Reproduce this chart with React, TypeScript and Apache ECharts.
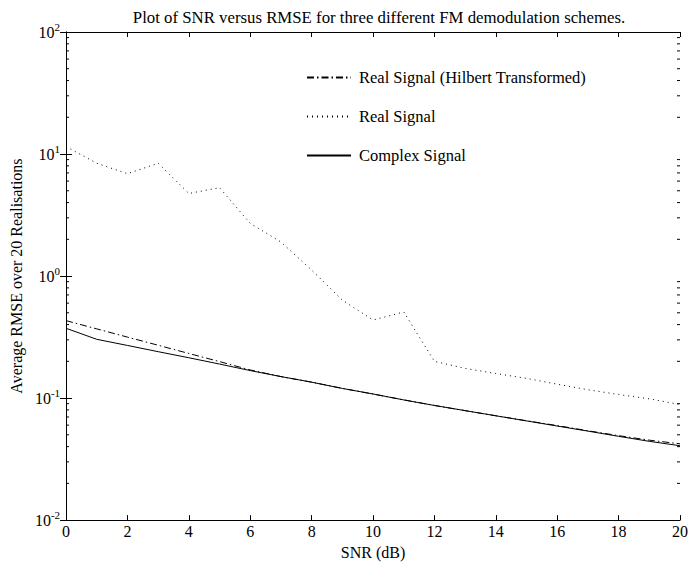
import React, { useEffect, useRef } from "react";
import * as echarts from "echarts";

const snr = [0, 1, 2, 3, 4, 5, 6, 7, 8, 9, 10, 11, 12, 13, 14, 15, 16, 17, 18, 19, 20];
const hilbertRmse = [0.431, 0.369, 0.316, 0.271, 0.232, 0.199, 0.170, 0.150, 0.135, 0.120, 0.108, 0.0966, 0.087, 0.0789, 0.0716, 0.0652, 0.0595, 0.054, 0.0492, 0.0452, 0.0422];
const realRmse = [11.5, 8.4, 6.9, 8.4, 4.75, 5.3, 2.7, 1.9, 1.12, 0.635, 0.436, 0.508, 0.20, 0.175, 0.159, 0.145, 0.130, 0.117, 0.107, 0.0986, 0.0886];
const complexRmse = [0.373, 0.303, 0.270, 0.240, 0.214, 0.190, 0.168, 0.150, 0.135, 0.120, 0.108, 0.0966, 0.087, 0.0789, 0.0716, 0.065, 0.059, 0.0536, 0.0486, 0.0442, 0.0407];
const seriesNames = ["Real Signal (Hilbert Transformed)", "Real Signal", "Complex Signal"];
const xTicks = [0, 2, 4, 6, 8, 10, 12, 14, 16, 18, 20];
const decades = [-2, -1, 0, 1];
const minorMultipliers = [2, 3, 4, 5, 6, 7, 8, 9];

const FONT = "Liberation Serif";

export default function App() {
  const ref = useRef<HTMLDivElement>(null);
  useEffect(() => {
    if (!ref.current) return;
    const chart = echarts.init(ref.current, null, { renderer: "svg" });
    const minorData: number[][] = [];
    decades.forEach((k) => minorMultipliers.forEach((m) => minorData.push([0, m * Math.pow(10, k)])));
    const pair = (ys: number[]) => snr.map((x, i) => [x, ys[i]]);
    const xCommon = {
      type: "value" as const,
      min: xTicks[0],
      max: xTicks[xTicks.length - 1],
      interval: 2,
      splitLine: { show: false },
      axisLine: { lineStyle: { color: "#000", width: 1 } },
      axisTick: { inside: true, length: 5, lineStyle: { color: "#000" } },
    };
    const yCommon = {
      type: "log" as const,
      min: 0.01,
      max: 100,
      logBase: 10,
      splitNumber: 4,
      splitLine: { show: false },
      axisLine: { lineStyle: { color: "#000", width: 1 } },
      axisTick: { inside: true, length: 6, lineStyle: { color: "#000" } },
    };
    chart.setOption({
      animation: false,
      backgroundColor: "#fff",
      title: {
        text: "Plot of SNR versus RMSE for three different FM demodulation schemes.",
        left: 374,
        textAlign: "center",
        top: 4,
        textStyle: { fontFamily: FONT, fontSize: 16.8, fontWeight: "normal", color: "#000" },
      },
      legend: {
        data: seriesNames,
        orient: "vertical",
        left: 306,
        top: 69,
        padding: 0,
        itemWidth: 44,
        itemHeight: 14,
        itemGap: 22,
        itemStyle: { opacity: 0 },
        textStyle: { fontFamily: FONT, fontSize: 16.5, color: "#000", padding: [0, 0, 0, 3] },
        selectedMode: false,
      },
      grid: { left: 63, right: 5, top: 32, bottom: 44 },
      xAxis: [
        {
          ...xCommon,
          position: "bottom",
          name: "SNR (dB)",
          nameLocation: "middle",
          nameGap: 20,
          nameTextStyle: { fontFamily: FONT, fontSize: 16, color: "#000" },
          axisLabel: { fontFamily: FONT, fontSize: 16, color: "#000", margin: 3 },
        },
        { ...xCommon, position: "top", axisLabel: { show: false } },
      ],
      yAxis: [
        {
          ...yCommon,
          position: "left",
          name: "Average RMSE over 20 Realisations",
          nameLocation: "middle",
          nameGap: 40,
          nameTextStyle: { fontFamily: FONT, fontSize: 16, color: "#000" },
          axisLabel: {
            margin: 6,
            formatter: (v: number) => "{b|10}{s|" + Math.round(Math.log10(v)) + "}",
            rich: {
              b: { fontFamily: FONT, fontSize: 16, color: "#000" },
              s: { fontFamily: FONT, fontSize: 11, color: "#000", padding: [0, 0, 10, 0] },
            },
          },
        },
        { ...yCommon, position: "right", axisLabel: { show: false } },
      ],
      series: [
        {
          name: seriesNames[0],
          type: "line",
          data: pair(hilbertRmse),
          showSymbol: false,
          symbol: "none",
          lineStyle: { color: "#000", width: 1, type: [7, 3, 1.5, 3] },
          itemStyle: { color: "#000" },
        },
        {
          name: seriesNames[1],
          type: "line",
          data: pair(realRmse),
          showSymbol: false,
          symbol: "none",
          lineStyle: { color: "#000", width: 1, type: [1, 4] },
          itemStyle: { color: "#000" },
        },
        {
          name: seriesNames[2],
          type: "line",
          data: pair(complexRmse),
          showSymbol: false,
          symbol: "none",
          lineStyle: { color: "#000", width: 1, type: "solid" },
          itemStyle: { color: "#000" },
        },
        {
          name: "minorTicks",
          type: "custom",
          silent: true,
          clip: false,
          data: minorData,
          renderItem: (_p: any, api: any) => {
            const v = api.value(1);
            const l = api.coord([xTicks[0], v]);
            const r = api.coord([xTicks[xTicks.length - 1], v]);
            return {
              type: "group",
              children: [
                { type: "line", shape: { x1: l[0], y1: l[1], x2: l[0] + 3, y2: l[1] }, style: { stroke: "#000", lineWidth: 1 } },
                { type: "line", shape: { x1: r[0], y1: r[1], x2: r[0] - 3, y2: r[1] }, style: { stroke: "#000", lineWidth: 1 } },
              ],
            };
          },
        },
      ],
    });
    return () => chart.dispose();
  }, []);
  return <div ref={ref} style={{ position: "fixed", left: 0, top: 0, width: 691, height: 565 }} />;
}
